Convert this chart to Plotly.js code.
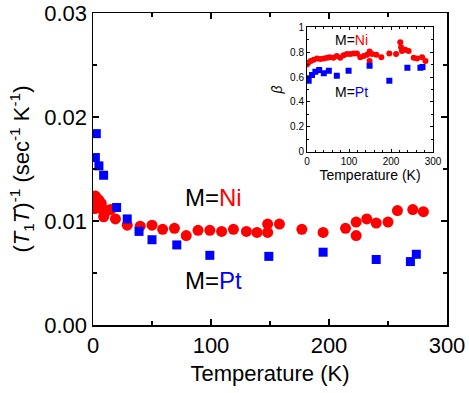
<!DOCTYPE html>
<html>
<head>
<meta charset="utf-8">
<script src="https://cdn.plot.ly/plotly-3.0.1.min.js"></script>
<style>html,body{margin:0;padding:0;background:#fff;}#chart{width:469px;height:393px;}</style>
</head>
<body>
<div id="chart"></div>
<script>
// Main panel: (T1T)^-1 vs Temperature
const niT = [1.5, 2, 3, 4, 5, 6, 7, 8, 9, 12, 15, 19, 29, 40, 50, 59, 69, 79, 89, 99, 109, 119, 130, 139, 148, 148, 158, 177, 195, 214, 223, 223, 232, 240, 250, 258, 271, 280];
const niV = [0.0112, 0.0124, 0.0122, 0.0118, 0.0120, 0.0115, 0.0117, 0.0111, 0.0104, 0.0110, 0.0111, 0.0102, 0.0096, 0.0095, 0.0096, 0.0092, 0.0093, 0.0086, 0.0091, 0.0091, 0.0090, 0.0092, 0.0090, 0.0089, 0.0097, 0.0089, 0.0097, 0.0092, 0.0089, 0.0093, 0.0099, 0.0086, 0.0102, 0.0098, 0.0099, 0.0110, 0.0111, 0.0109];
const ptT = [2, 2.8, 5, 9, 20, 29, 39, 50, 71, 99, 149, 195, 240, 269, 274];
const ptV = [0.0161, 0.0184, 0.0153, 0.0144, 0.0113, 0.0102, 0.0090, 0.0082, 0.0077, 0.0067, 0.0066, 0.0070, 0.0063, 0.0061, 0.0068];
// Inset: beta vs Temperature
const niBT = [0, 3, 9, 16, 24, 32, 40, 48, 54, 63, 71, 79, 87, 95, 103, 111, 119, 127, 135, 143, 149, 149, 155, 165, 177, 196, 212, 222, 224, 226, 234, 242, 254, 262, 274, 282];
const niB = [0.70, 0.715, 0.73, 0.74, 0.75, 0.745, 0.75, 0.755, 0.76, 0.755, 0.77, 0.755, 0.775, 0.785, 0.785, 0.79, 0.79, 0.76, 0.77, 0.78, 0.805, 0.73, 0.785, 0.78, 0.76, 0.79, 0.785, 0.88, 0.84, 0.81, 0.82, 0.81, 0.755, 0.75, 0.76, 0.73];
const ptBT = [2, 4, 12, 20, 29, 40, 52, 71, 99, 149, 196, 239, 270, 275];
const ptB = [0.59, 0.57, 0.617, 0.643, 0.657, 0.63, 0.65, 0.61, 0.65, 0.69, 0.57, 0.675, 0.675, 0.68];

const RED = '#ff0000', BLUE = '#0000ff';
const FONT = 'Liberation Sans, Arial, sans-serif';

const traces = [
  {x: niT, y: niV, mode: 'markers', type: 'scatter', marker: {symbol: 'circle', size: 11, color: RED}, xaxis: 'x', yaxis: 'y'},
  {x: ptT, y: ptV, mode: 'markers', type: 'scatter', marker: {symbol: 'square', size: 9, color: BLUE}, xaxis: 'x', yaxis: 'y'},
  {x: niBT, y: niB, mode: 'markers', type: 'scatter', marker: {symbol: 'circle', size: 6, color: RED}, xaxis: 'x2', yaxis: 'y2'},
  {x: ptBT, y: ptB, mode: 'markers', type: 'scatter', marker: {symbol: 'square', size: 6, color: BLUE}, xaxis: 'x2', yaxis: 'y2'}
];

const axisCommon = {
  showgrid: false, zeroline: false, showline: true, linecolor: '#000', linewidth: 1.5,
  mirror: 'ticks', ticks: 'inside', tickcolor: '#000', tickwidth: 1.5, ticklen: 6
};

const layout = {
  width: 469, height: 393,
  margin: {l: 93, r: 22, t: 13, b: 68},
  paper_bgcolor: '#fff', plot_bgcolor: '#fff',
  showlegend: false,
  font: {family: FONT, color: '#000'},
  xaxis: Object.assign({}, axisCommon, {
    range: [0, 300], tickvals: [0, 100, 200, 300], tickfont: {size: 22},
    minor: {dtick: 50, ticks: 'inside', ticklen: 4, tickcolor: '#000', tickwidth: 1.5},
    title: {text: 'Temperature (K)', font: {size: 22}, standoff: 8},
    domain: [0, 1]
  }),
  yaxis: Object.assign({}, axisCommon, {
    range: [0, 0.03], tickvals: [0, 0.01, 0.02, 0.03], tickformat: '.2f', tickfont: {size: 22},
    minor: {dtick: 0.005, ticks: 'inside', ticklen: 4, tickcolor: '#000', tickwidth: 1.5},
    title: {text: '(<i>T</i><sub>1</sub><i>T</i>)<sup>-1</sup> (sec<sup>-1</sup> K<sup>-1</sup>)', font: {size: 22}, standoff: 8},
    domain: [0, 1]
  }),
  xaxis2: Object.assign({}, axisCommon, {
    anchor: 'y2', domain: [0.6045, 0.9605], range: [0, 300], tickvals: [0, 100, 200, 300],
    tickfont: {size: 10}, linewidth: 1, tickwidth: 1, ticklen: 3,
    minor: {dtick: 20, ticks: 'inside', ticklen: 2, tickcolor: '#000', tickwidth: 1},
    title: {text: 'Temperature (K)', font: {size: 14}, standoff: 2}
  }),
  yaxis2: Object.assign({}, axisCommon, {
    anchor: 'x2', domain: [0.5554, 0.9542], range: [0, 1], tickvals: [0, 0.2, 0.4, 0.6, 0.8, 1],
    tickfont: {size: 10}, linewidth: 1, tickwidth: 1, ticklen: 3,
    minor: {dtick: 0.1, ticks: 'inside', ticklen: 2, tickcolor: '#000', tickwidth: 1},
    title: {text: '<i>β</i>', font: {size: 14}, standoff: 4}
  }),
  annotations: [
    {xref: 'x', yref: 'y', x: 76, y: 0.0123, xanchor: 'left', yanchor: 'middle', showarrow: false,
     text: 'M=<span style="color:' + RED + '">Ni</span>', font: {size: 24, color: '#000'}},
    {xref: 'x', yref: 'y', x: 76, y: 0.0043, xanchor: 'left', yanchor: 'middle', showarrow: false,
     text: 'M=<span style="color:' + BLUE + '">Pt</span>', font: {size: 24, color: '#000'}},
    {xref: 'x2', yref: 'y2', x: 62, y: 0.9, xanchor: 'left', yanchor: 'middle', showarrow: false,
     text: 'M=<span style="color:' + RED + '">Ni</span>', font: {size: 14, color: '#000'}},
    {xref: 'x2', yref: 'y2', x: 62, y: 0.48, xanchor: 'left', yanchor: 'middle', showarrow: false,
     text: 'M=<span style="color:' + BLUE + '">Pt</span>', font: {size: 14, color: '#000'}}
  ]
};

Plotly.newPlot('chart', traces, layout, {staticPlot: true, displayModeBar: false});
</script>
</body>
</html>
